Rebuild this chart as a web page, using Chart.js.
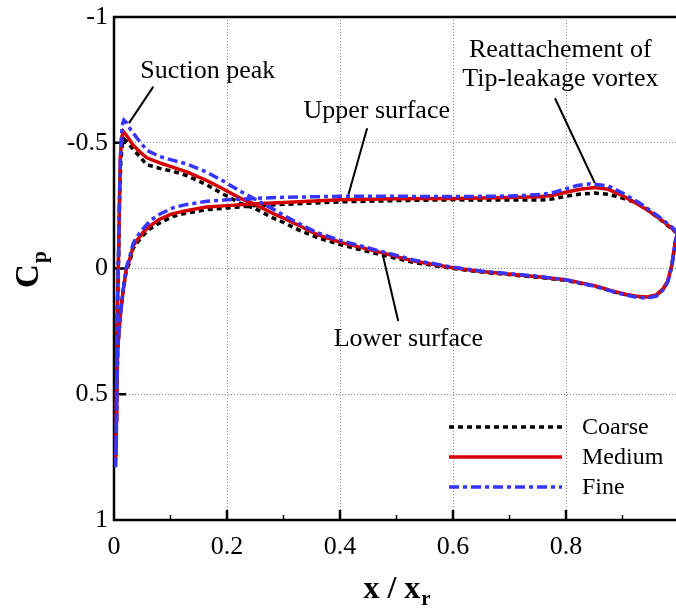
<!DOCTYPE html>
<html>
<head>
<meta charset="utf-8">
<script src="https://cdn.jsdelivr.net/npm/chart.js@4.4.0/dist/chart.umd.min.js"></script>
<style>
  html, body { margin: 0; padding: 0; background: #fff; overflow: hidden; }
  #cpChart { display: block; width: 676px; height: 608px; }
</style>
</head>
<body>
<canvas id="cpChart" width="676" height="608"></canvas>
<script>
// Pressure coefficient along the blade section, three grids.
// "upper" runs from stagnation point to trailing edge on the upper surface,
// "lower" runs from stagnation point over the suction peak to trailing edge.
const coarseUpperX  = [0.003,0.004,0.005,0.0065,0.011,0.016,0.022,0.027,0.034,0.04,0.052,0.064,0.08,0.105,0.123,0.164,0.223,0.25,0.3,0.4,0.5,0.6,0.7,0.754,0.775,0.8,0.825,0.851,0.875,0.9,0.931,0.965,0.99,0.997];
const coarseUpperCp = [0.75,0.65,0.49,0.32,0.19,0.09,0.005,-0.02,-0.08,-0.1,-0.133,-0.158,-0.18,-0.208,-0.218,-0.234,-0.245,-0.25,-0.255,-0.265,-0.27,-0.273,-0.272,-0.272,-0.276,-0.287,-0.296,-0.3,-0.295,-0.28,-0.256,-0.198,-0.152,-0.14];
const coarseLowerX  = [0.003,0.004,0.005,0.006,0.008,0.01,0.012,0.0145,0.0175,0.022,0.028,0.037,0.058,0.081,0.105,0.13,0.164,0.19,0.223,0.25,0.282,0.3,0.33,0.36,0.4,0.47,0.53,0.6,0.65,0.707,0.75,0.8,0.854,0.88,0.907,0.925,0.943,0.96,0.972,0.98,0.987,0.993,0.997];
const coarseLowerCp = [0.75,0.6,0.3,0.16,-0.03,-0.28,-0.42,-0.49,-0.515,-0.505,-0.49,-0.466,-0.413,-0.398,-0.386,-0.368,-0.333,-0.3,-0.26,-0.238,-0.2,-0.183,-0.15,-0.123,-0.095,-0.056,-0.024,0.0,0.014,0.026,0.035,0.047,0.072,0.09,0.105,0.112,0.115,0.107,0.082,0.052,-0.008,-0.1,-0.14];

const mediumUpperX  = [0.003,0.004,0.005,0.0065,0.011,0.016,0.022,0.027,0.034,0.04,0.052,0.064,0.08,0.1,0.123,0.164,0.2,0.25,0.3,0.4,0.5,0.6,0.7,0.75,0.775,0.8,0.825,0.851,0.875,0.896,0.92,0.943,0.965,0.99,0.997];
const mediumUpperCp = [0.76,0.65,0.49,0.32,0.19,0.09,0.0,-0.03,-0.09,-0.11,-0.145,-0.17,-0.195,-0.215,-0.228,-0.245,-0.25,-0.257,-0.262,-0.273,-0.277,-0.278,-0.282,-0.285,-0.29,-0.303,-0.315,-0.322,-0.315,-0.294,-0.265,-0.234,-0.2,-0.155,-0.14];
const mediumLowerX  = [0.003,0.004,0.005,0.006,0.008,0.01,0.011,0.0135,0.0165,0.022,0.028,0.034,0.045,0.058,0.081,0.105,0.13,0.164,0.19,0.223,0.25,0.282,0.3,0.33,0.36,0.4,0.47,0.53,0.6,0.65,0.707,0.75,0.8,0.854,0.88,0.907,0.925,0.943,0.96,0.972,0.98,0.987,0.993,0.997];
const mediumLowerCp = [0.76,0.6,0.3,0.16,-0.04,-0.3,-0.43,-0.52,-0.545,-0.53,-0.51,-0.49,-0.465,-0.44,-0.42,-0.402,-0.383,-0.35,-0.32,-0.28,-0.255,-0.218,-0.2,-0.168,-0.135,-0.105,-0.065,-0.03,-0.003,0.012,0.024,0.033,0.045,0.07,0.088,0.103,0.11,0.113,0.105,0.08,0.05,-0.01,-0.1,-0.14];

const fineUpperX  = [0.003,0.004,0.005,0.0065,0.011,0.016,0.022,0.027,0.034,0.04,0.052,0.064,0.08,0.105,0.123,0.164,0.2,0.25,0.3,0.4,0.5,0.6,0.7,0.754,0.775,0.8,0.82,0.843,0.875,0.9,0.931,0.965,0.99,0.997];
const fineUpperCp = [0.79,0.68,0.5,0.32,0.19,0.09,-0.005,-0.04,-0.1,-0.125,-0.16,-0.19,-0.215,-0.242,-0.252,-0.267,-0.273,-0.279,-0.283,-0.287,-0.287,-0.286,-0.288,-0.294,-0.3,-0.317,-0.33,-0.337,-0.328,-0.3,-0.26,-0.205,-0.16,-0.14];
const fineLowerX  = [0.003,0.004,0.005,0.006,0.008,0.01,0.012,0.0145,0.0175,0.022,0.03,0.042,0.058,0.081,0.105,0.13,0.164,0.19,0.223,0.25,0.282,0.3,0.33,0.36,0.4,0.47,0.53,0.6,0.65,0.707,0.75,0.8,0.854,0.88,0.907,0.925,0.943,0.96,0.972,0.98,0.987,0.993,0.997];
const fineLowerCp = [0.79,0.6,0.3,0.15,-0.05,-0.32,-0.48,-0.57,-0.59,-0.58,-0.55,-0.515,-0.47,-0.445,-0.43,-0.415,-0.383,-0.352,-0.308,-0.275,-0.236,-0.212,-0.176,-0.142,-0.112,-0.07,-0.034,-0.005,0.01,0.022,0.031,0.045,0.072,0.09,0.106,0.114,0.118,0.11,0.085,0.055,-0.005,-0.1,-0.14];

// Axis ticks
const xMajorTicks = [0.2, 0.4, 0.6, 0.8];
const xMinorTicks = [0.1, 0.3, 0.5, 0.7, 0.9];
const yMajorTicks = [-0.5, 0, 0.5];

// Callouts (data coordinates)
const calloutTexts = [
  { text: 'Suction peak', x: 0.166, cp: -0.786 },
  { text: 'Upper surface', x: 0.465, cp: -0.624 },
  { text: 'Lower surface', x: 0.521, cp: 0.282 },
  { text: 'Reattachement of', x: 0.79, cp: -0.869 },
  { text: 'Tip-leakage vortex', x: 0.79, cp: -0.752 }
];
const calloutLines = [
  [0.0696, -0.723, 0.0265, -0.578],
  [0.448, -0.558, 0.415, -0.294],
  [0.503, 0.209, 0.4756, -0.056],
  [0.7805, -0.677, 0.851, -0.34]
];

// plot frame in canvas pixels (right edge runs just past the picture)
const AREA = { left: 114, top: 17, right: 679, bottom: 520 };

const SERIF = '"Liberation Serif", "Times New Roman", serif';

// closed loop: trailing edge -> upper surface -> stagnation -> suction peak -> trailing edge
function buildLoop(ux, ucp, lx, lcp) {
  const pts = [];
  for (let i = ux.length - 1; i >= 0; i--) pts.push({ x: ux[i], y: ucp[i] });
  for (let i = 1; i < lx.length; i++) pts.push({ x: lx[i], y: lcp[i] });
  return pts;
}

const datasets = [
  {
    label: 'Coarse',
    data: buildLoop(coarseUpperX, coarseUpperCp, coarseLowerX, coarseLowerCp),
    borderColor: '#000000',
    borderWidth: 3.5,
    borderDash: [5, 4],
    order: 2
  },
  {
    label: 'Medium',
    data: buildLoop(mediumUpperX, mediumUpperCp, mediumLowerX, mediumLowerCp),
    borderColor: '#d40000',
    borderWidth: 3.5,
    order: 1
  },
  {
    label: 'Fine',
    data: buildLoop(fineUpperX, fineUpperCp, fineLowerX, fineLowerCp),
    borderColor: '#3535ff',
    borderWidth: 3.5,
    borderDash: [10, 4, 4, 4],
    order: 0
  }
].map(d => Object.assign({ showLine: true, pointRadius: 0, tension: 0, fill: false, borderCapStyle: 'butt' }, d));

// pin the chart area to the frame of the original figure
const pinArea = {
  id: 'pinArea',
  afterLayout(chart) {
    const a = chart.chartArea, x = chart.scales.x, y = chart.scales.y;
    Object.assign(a, AREA);
    a.width = a.right - a.left;
    a.height = a.bottom - a.top;
    x.left = a.left; x.right = a.right; x.width = a.width;
    x.top = a.bottom; x.bottom = chart.height; x.height = x.bottom - x.top;
    y.top = a.top; y.bottom = a.bottom; y.height = a.height;
    y.left = 0; y.right = a.left; y.width = a.left;
    x.configure();
    y.configure();
  }
};

const decor = {
  id: 'decor',
  beforeDatasetsDraw(chart) {
    const { ctx, chartArea: a, scales: { x, y } } = chart;
    ctx.save();
    ctx.strokeStyle = '#000';
    // frame
    ctx.lineWidth = 2.5;
    ctx.strokeRect(a.left, a.top, a.right - a.left, a.bottom - a.top);
    // inward ticks
    ctx.lineWidth = 2.5;
    ctx.beginPath();
    xMajorTicks.forEach(v => { const px = x.getPixelForValue(v); ctx.moveTo(px, a.bottom); ctx.lineTo(px, a.bottom - 10); });
    yMajorTicks.forEach(v => { const py = y.getPixelForValue(v); ctx.moveTo(a.left, py); ctx.lineTo(a.left + 12, py); });
    ctx.stroke();
    ctx.lineWidth = 1.5;
    ctx.beginPath();
    xMinorTicks.forEach(v => { const px = x.getPixelForValue(v); ctx.moveTo(px, a.bottom); ctx.lineTo(px, a.bottom - 5); });
    ctx.stroke();
    ctx.restore();
  },
  afterDraw(chart) {
    const { ctx, scales: { x, y } } = chart;
    ctx.save();

    // callouts
    ctx.fillStyle = '#000';
    ctx.font = '26px ' + SERIF;
    ctx.textAlign = 'center';
    ctx.textBaseline = 'middle';
    calloutTexts.forEach(t => ctx.fillText(t.text, x.getPixelForValue(t.x), y.getPixelForValue(t.cp)));
    ctx.strokeStyle = '#000';
    ctx.lineWidth = 2;
    ctx.setLineDash([]);
    calloutLines.forEach(l => {
      ctx.beginPath();
      ctx.moveTo(x.getPixelForValue(l[0]), y.getPixelForValue(l[1]));
      ctx.lineTo(x.getPixelForValue(l[2]), y.getPixelForValue(l[3]));
      ctx.stroke();
    });

    // legend inside plot
    const rows = [427, 457, 487];
    chart.data.datasets.forEach((d, i) => {
      ctx.beginPath();
      ctx.strokeStyle = d.borderColor;
      ctx.lineWidth = d.borderWidth;
      ctx.setLineDash(d.borderDash || []);
      ctx.moveTo(449, rows[i]);
      ctx.lineTo(562, rows[i]);
      ctx.stroke();
      ctx.setLineDash([]);
      ctx.fillStyle = '#000';
      ctx.font = '24px ' + SERIF;
      ctx.textAlign = 'left';
      ctx.textBaseline = 'middle';
      ctx.fillText(d.label, 582, rows[i] + 1);
    });

    // x axis title: x / x_r
    ctx.fillStyle = '#000';
    ctx.textBaseline = 'alphabetic';
    ctx.textAlign = 'left';
    ctx.font = 'bold 32px ' + SERIF;
    const main = 'x / x';
    const wMain = ctx.measureText(main).width;
    ctx.font = 'bold 21px ' + SERIF;
    const wSub = ctx.measureText('r').width;
    const cx = (x.left + x.right) / 2;
    let sx = cx - (wMain + wSub) / 2;
    ctx.font = 'bold 32px ' + SERIF;
    ctx.fillText(main, sx, 598);
    ctx.font = 'bold 21px ' + SERIF;
    ctx.fillText('r', sx + wMain + 1, 605);

    // y axis title: C_p rotated
    ctx.save();
    ctx.translate(38, 270);
    ctx.rotate(-Math.PI / 2);
    ctx.font = 'bold 33px ' + SERIF;
    const wC = ctx.measureText('C').width;
    ctx.font = 'bold 22px ' + SERIF;
    const wp = ctx.measureText('p').width;
    const s0 = -(wC + wp) / 2;
    ctx.font = 'bold 33px ' + SERIF;
    ctx.fillText('C', s0, 0);
    ctx.font = 'bold 22px ' + SERIF;
    ctx.fillText('p', s0 + wC + 1, 8);
    ctx.restore();

    ctx.restore();
  }
};

new Chart(document.getElementById('cpChart'), {
  type: 'scatter',
  data: { datasets },
  plugins: [pinArea, decor],
  options: {
    responsive: false,
    animation: false,
    devicePixelRatio: 1,
    layout: { padding: { top: 17, right: 0, left: 0, bottom: 0 } },
    plugins: { legend: { display: false }, tooltip: { enabled: false } },
    scales: {
      x: {
        type: 'linear',
        min: 0,
        max: 1,
        afterFit: s => { s.height = 88; },
        border: { display: false, dash: [1, 2] },
        grid: {
          drawTicks: false,
          lineWidth: 1,
          color: c => (c.tick && (c.tick.value <= 0 || c.tick.value >= 1)) ? 'rgba(0,0,0,0)' : '#8a8a8a'
        },
        ticks: {
          stepSize: 0.2,
          padding: 12,
          color: '#000',
          maxRotation: 0,
          font: { family: SERIF, size: 26 },
          callback: v => (v >= 1 ? '' : String(Math.round(v * 10) / 10))
        }
      },
      y: {
        type: 'linear',
        min: -1,
        max: 1,
        reverse: true,
        afterFit: s => { s.width = 114; },
        border: { display: false, dash: [1, 2] },
        grid: {
          drawTicks: false,
          lineWidth: 1,
          color: c => (c.tick && Math.abs(c.tick.value) >= 1) ? 'rgba(0,0,0,0)' : '#8a8a8a'
        },
        ticks: {
          stepSize: 0.5,
          padding: 6,
          color: '#000',
          font: { family: SERIF, size: 26 },
          callback: v => String(v)
        }
      }
    }
  }
});
</script>
</body>
</html>
